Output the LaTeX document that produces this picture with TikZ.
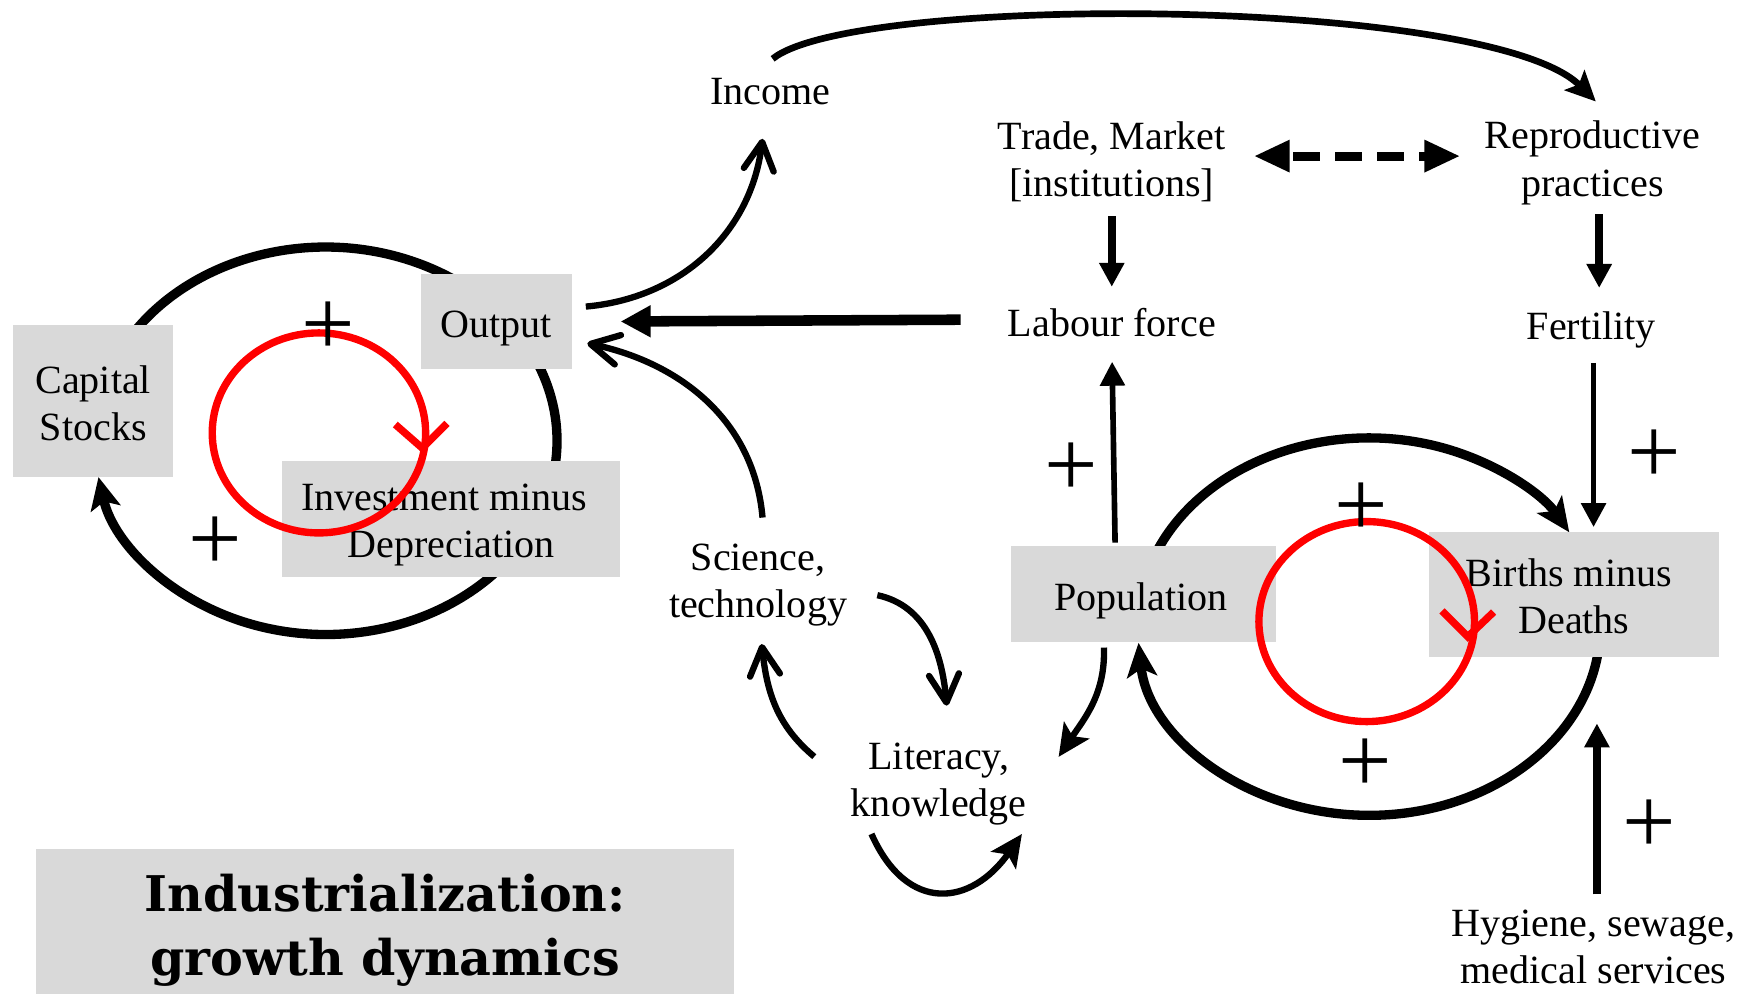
\documentclass[tikz,border=0pt]{standalone}
\usepackage{fontspec}
\setmainfont{Liberation Serif}
\newfontfamily\titlefont{DejaVu Serif}
\usetikzlibrary{arrows.meta,calc}
\definecolor{boxgray}{RGB}{217,217,217}
\definecolor{loopred}{RGB}{255,0,0}
\pgfdeclarelayer{bg}
\pgfdeclarelayer{fg}
\pgfsetlayers{bg,main,fg}
\begin{document}
\begin{tikzpicture}[x=0.01123cm,y=0.01123cm,
  txt/.style={font=\fontsize{11.4}{13.4}\selectfont, align=center, inner sep=0pt},
  box/.style={fill=boxgray, inner sep=0pt},
  plussign/.style={font=\fontsize{27}{27}\selectfont, inner sep=0pt},
  bigloop/.style={line width=2.65pt},
  bighead/.style={-{Stealth[length=0.34cm,width=0.30cm,inset=0.08cm]}},
  redloop/.style={draw=loopred, line width=2.1pt},
  thinarrow/.style={line width=1.8pt},
  barb/.style={-{Straight Barb[length=0.28cm,width=0.30cm,round]}},
  tri/.style={-{Triangle[length=0.24cm,width=0.24cm]}},
  fhead/.style={-{Stealth[length=0.32cm,width=0.30cm,inset=0.07cm]}},
]
\useasboundingbox (0,0) rectangle (1560.1,-885.1);

% grey boxes
\node[box, minimum width=1.595cm, minimum height=1.522cm] (cap) at (83,-356.8) {};
\node[box, minimum width=1.505cm, minimum height=0.955cm] (output) at (442,-286.5) {};
\node[box, minimum width=3.380cm, minimum height=1.157cm] (invest) at (401.5,-462) {};
\node[box, minimum width=2.650cm, minimum height=0.959cm] (pop) at (1018,-528.7) {};
\node[box, minimum width=2.897cm, minimum height=1.244cm] (births) at (1401.5,-529.4) {};
\node[box, minimum width=6.985cm, minimum height=1.617cm] (title) at (343,-828) {};

% box texts
\node[txt] (captxt) at ([yshift=-0.03cm]cap.center) {Capital\\Stocks};
\node[txt] (outtxt) at ([yshift=-0.067cm]output.center) {Output};
\node[txt] (invtxt) at ([yshift=-0.062cm]invest.center) {Investment minus\hspace*{0.135cm}\\Depreciation};
\node[txt] (poptxt) at ([xshift=-0.022cm,yshift=-0.067cm]pop.center) {Population};
\node[txt] (birtxt) at ([xshift=0cm,yshift=-0.017cm]births.center) {Births minus\hspace*{0.1cm}\\Deaths};
\node[align=center, inner sep=0pt, font=\titlefont\bfseries\fontsize{14}{18.2}\selectfont] (titletxt)
  at (title.center) {Industrialization:\\growth dynamics};

% text nodes
\node[txt, minimum width=1.348cm, minimum height=0.404cm] (income) at (686,-82) {Income};
\node[txt, minimum width=2.471cm, minimum height=0.943cm] (trade) at (990,-144) {Trade, Market\\{[institutions]}};
\node[txt, minimum width=2.358cm, minimum height=0.943cm] (repro) at (1418,-145) {Reproductive\\practices};
\node[txt, minimum width=2.246cm, minimum height=0.404cm] (labour) at (990,-287) {Labour force};
\node[txt, minimum width=1.46cm, minimum height=0.404cm] (fert) at (1417,-294) {Fertility};
\node[txt, minimum width=1.909cm, minimum height=0.943cm] (sci) at (675,-521) {Science,\\technology};
\node[txt, minimum width=1.909cm, minimum height=0.943cm] (lit) at (836,-698) {Literacy,\\knowledge};
\node[txt, minimum width=2.92cm, minimum height=0.943cm] (hyg) at (1419,-843) {Hygiene, sewage,\\medical services};

% big black loops
\coordinate (LC) at (290,-392.5);
\coordinate (RC) at (1219,-558);
\begin{pgfonlayer}{bg}
\draw[bigloop, -{Stealth[length=0.32cm,width=0.30cm,inset=0.07cm]}] ($(LC)+(160:2.313cm and 1.937cm)$)
  arc[start angle=160, end angle=-169.2, x radius=2.313cm, y radius=1.937cm];
\draw[bigloop, bighead] ($(RC)+(160:2.313cm and 1.887cm)$)
  arc[start angle=160, end angle=30, x radius=2.313cm, y radius=1.887cm];
\draw[bigloop, bighead] ($(RC)+(-5:2.313cm and 1.887cm)$)
  arc[start angle=-5, end angle=-175.1, x radius=2.313cm, y radius=1.887cm];
\end{pgfonlayer}

% straight arrows
\draw[line width=2.2pt, tri, shorten <=0.067cm, shorten >=0.146cm] (trade.south) -- (trade.south |- labour.north);
\draw[line width=2.2pt, tri, shorten <=0.034cm, shorten >=0.213cm]
  ($(repro.south)+(6,0)$) -- ($(repro.south |- fert.north)+(6,0)$);
\draw[line width=3pt, -{Triangle[length=0.30cm,width=0.30cm]}, shorten <=0.382cm, shorten >=0.483cm]
  ([yshift=0.028cm]labour.west) -- (output.east);
\draw[line width=1.6pt, tri, shorten <=0.025cm, shorten >=0.185cm] ([xshift=-0.281cm]pop.north) -- (labour.south);
\draw[line width=1.6pt, tri, shorten <=0.118cm, shorten >=0.045cm]
  ($(fert.south)+(2,0)$) -- ($(fert.south |- births.north)+(2,0)$);
\draw[line width=2.2pt, tri, shorten <=0.045cm, shorten >=0.66cm]
  ($(hyg.north)+(3,0)$) -- ($(hyg.north |- births.south)+(3,0)$);

% dashed double arrow
\draw[line width=2.6pt, dash pattern=on 0.27cm off 0.15cm, dash phase=0.36cm,
      {Triangle[length=0.36cm,width=0.30cm]}-{Triangle[length=0.36cm,width=0.30cm]},
      shorten <=0.177cm, shorten >=0.135cm]
  ($(trade.east)+(0,5)$) -- ($(trade.east -| repro.west)+(0,5)$);

% top arc
\draw[line width=1.9pt, -{Stealth[length=0.3cm,width=0.28cm,inset=0.06cm]}]
  ([shift={(2,11)}]income.north) to[out=39, in=135, out distance=1.04cm, in distance=1.488cm] ([shift={(3,12)}]repro.north);

% curved thin arrows
\draw[thinarrow, barb] ([shift={(12,13.5)}]output.east) to[out=5, in=-97] ([shift={(-7,-23)}]income.south);
\draw[thinarrow, barb] ([shift={(4,17.5)}]sci.north) to[out=95, in=-12] ([shift={(13.4,-19.2)}]output.east);
\draw[thinarrow, barb] ([shift={(20.6,-9)}]sci.east) to[out=-12, in=95] ([shift={(7,27)}]lit.north);
\draw[thinarrow, barb] ([shift={(-25.3,24.2)}]lit.west) to[out=140, in=-84] ([shift={(3.3,-9.9)}]sci.south);
\draw[thinarrow, fhead] ([shift={(-60,-2)}]lit.south) to[out=-66, in=-125, looseness=1.5] ([shift={(74,-2)}]lit.south);
\draw[thinarrow, fhead] ([shift={(-35,-4.6)}]pop.south) to[out=-88, in=56] ([shift={(21,24)}]lit.east);

% red loops and polarity signs
\coordinate (LRC) at (284,-385.5);
\coordinate (RRC) at (1217,-553.5);
\coordinate (LV) at (376,-399);
\coordinate (RV) at (1307,-567);
\begin{pgfonlayer}{fg}
\draw[redloop] (LRC) ellipse [x radius=1.067cm, y radius=1.0cm];
\draw[redloop] (RRC) ellipse [x radius=1.078cm, y radius=1.0cm];
\draw[redloop] ($(LV)+(-24,21)$) -- (LV) -- ($(LV)+(22,22)$);
\draw[redloop] ($(RV)+(-23,23)$) -- (RV) -- ($(RV)+(23,22)$);
\node[plussign] (p1) at (292,-292.5) {+};
\node[plussign] (p2) at (191.5,-484) {+};
\node[plussign] (p3) at (953.5,-418.5) {+};
\node[plussign] (p4) at (1473,-406.5) {+};
\node[plussign] (p5) at (1212.5,-454) {+};
\node[plussign] (p6) at (1216,-681.5) {+};
\node[plussign] (p7) at (1468.5,-736) {+};
\end{pgfonlayer}
\end{tikzpicture}
\end{document}
